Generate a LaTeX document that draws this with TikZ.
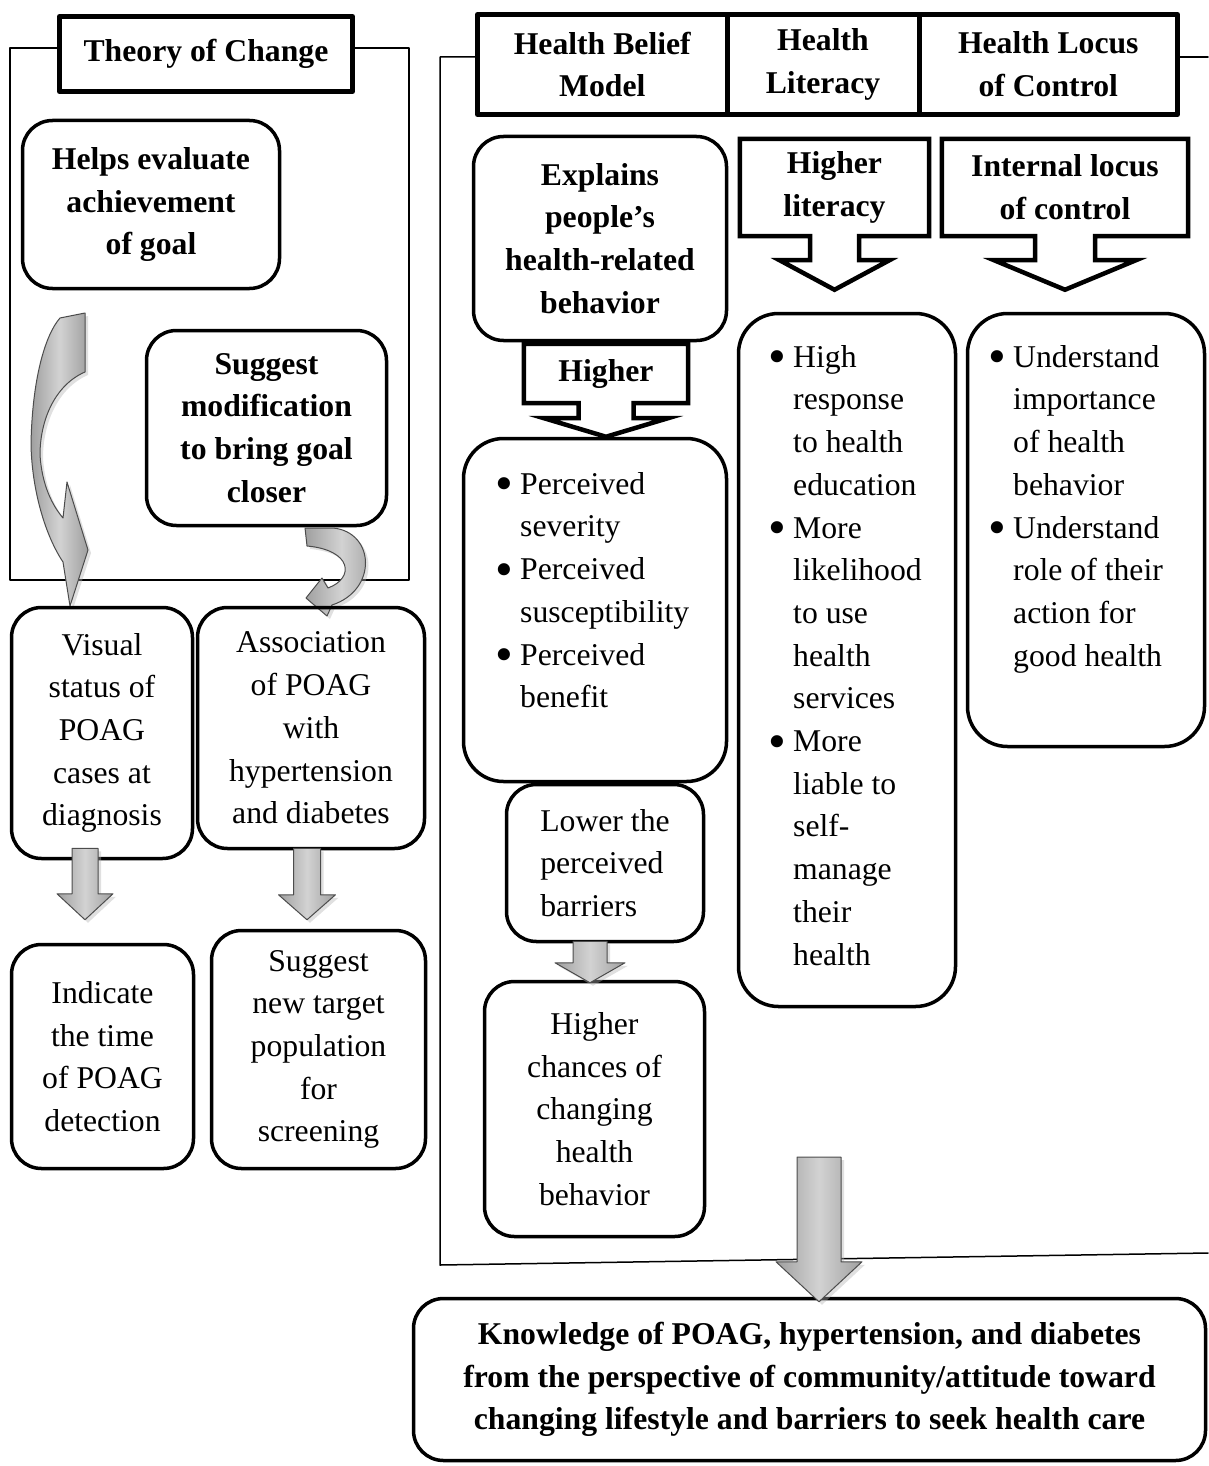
\documentclass[tikz,border=0pt]{standalone}
\usepackage{fontspec}
\usepackage{graphicx}
\setmainfont{Liberation Serif}
\usetikzlibrary{positioning,calc,shadows}

\newcommand{\diafont}{\fontsize{31.7}{42.7}\selectfont}
\newlength{\bulw}\setlength{\bulw}{19pt}
\newcommand{\bul}[1]{\makebox[\bulw][l]{\hspace{-6pt}\raisebox{-6.5pt}{\scalebox{1.6}{\textbullet}}}#1}
\newcommand{\cont}[1]{\hspace*{\bulw}#1}

% callout outline: text node, target point, shaft half width, head half width, shaft length
\newcommand{\downcallout}[5]{%
  \draw[calloutline] let \p1=(#1.north west), \p2=(#1.south east), \p3=(#1.south), \p4=(#2) in
    (\x1,\y1) -- (\x2,\y1) -- (\x2,\y2) -- (\x3+#3pt,\y2) -- (\x3+#3pt,\y2-#5pt)
    -- (\x3+#4pt,\y2-#5pt) -- (\x3,\y4) -- (\x3-#4pt,\y2-#5pt) -- (\x3-#3pt,\y2-#5pt)
    -- (\x3-#3pt,\y2) -- (\x1,\y2) -- cycle;}
% gray block arrow: start, tip, shaft half width, head half width, head length
\newcommand{\blockdown}[5]{%
  \path[blockfill] let \p1=(#1), \p2=(#2) in
    (\x1-#3pt,\y1) -- (\x1+#3pt,\y1) -- (\x1+#3pt,\y2+#5pt) -- (\x1+#4pt,\y2+#5pt)
    -- (\x1,\y2) -- (\x1-#4pt,\y2+#5pt) -- (\x1-#3pt,\y2+#5pt) -- cycle;}

\tikzset{
  frameline/.style={line width=1.5pt},
  titlebox/.style={draw, line width=5pt, font=\diafont\bfseries, align=center, inner sep=0pt, outer sep=0pt},
  roundbox/.style={draw, line width=3.5pt, rounded corners=30pt, align=center, inner sep=0pt},
  boldround/.style={roundbox, font=\diafont\bfseries},
  listbox/.style={draw, line width=3.5pt, rounded corners=40pt, inner sep=0pt},
  listtext/.style={align=left, inner sep=0pt, anchor=north west},
  callouttext/.style={inner sep=0pt, align=center, font=\diafont\bfseries},
  calloutline/.style={line width=4.5pt, line join=miter},
  blockfill/.style={draw=gray!60!black, line width=1pt, left color=gray!75, right color=gray!75, middle color=gray!35,
    drop shadow={shadow xshift=3pt, shadow yshift=-3pt, fill=gray!60, opacity=.4}},
}

\begin{document}
\begin{tikzpicture}[x=1pt, y=-1pt, font=\diafont, line join=round, line cap=round, >=stealth]
  \useasboundingbox (0,0) rectangle (1208,1466);

  % Theory of Change
  \draw[frameline] (57,48) -- (10,48) -- (10,580) -- (409,580) -- (409,48) -- (355,48);
  \node[titlebox, minimum width=293pt, minimum height=75pt] (toc) at (206,54) {Theory of Change};
  \node[boldround, minimum width=257pt, minimum height=168pt] (helps) at (151,204.5) {Helps evaluate\\achievement\\of goal};
  \node[boldround, minimum width=240pt, minimum height=195pt] (suggmod) at (266.5,428) {Suggest\\modification\\to bring goal\\closer};
  \path[blockfill] (60,318) -- (85,313) -- (85,372) .. controls (55,385) and (40,420) .. (40,455)
    .. controls (42,485) and (52,505) .. (63,518) -- (67,482) -- (88,550) -- (70,606) -- (63,562)
    .. controls (45,535) and (32,490) .. (31,445) .. controls (32,380) and (45,335) .. (60,318) -- cycle;
  \path[blockfill] (305,528) -- (333,528) .. controls (375,532) and (378,590) .. (332,605) -- (327,616)
    -- (306,598) -- (322,578) -- (328,588) .. controls (355,578) and (352,550) .. (307,546) -- cycle;

  \node[roundbox, minimum width=181pt, minimum height=251pt] (visual) at (102,733) {Visual\\status of\\POAG\\cases at\\diagnosis};
  \node[roundbox, minimum width=227pt, minimum height=241pt] (assoc) at (311,728) {Association\\of POAG\\with\\hypertension\\and diabetes};
  \node[roundbox, minimum width=182pt, minimum height=224pt] (indicate) at (102.5,1056.5) {Indicate\\the time\\of POAG\\detection};
  \node[roundbox, minimum width=214pt, minimum height=238pt] (newtarget) at (318.5,1049.5) {Suggest\\new target\\population\\for\\screening};
  \blockdown{$(visual.south)+(-17,-12)$}{$(indicate.north)+(0,-23)$}{13}{28}{26}
  \blockdown{$(assoc.south)+(-4,-2)$}{$(newtarget.north)+(0,-9)$}{13.5}{28.5}{25}

  % health models
  \draw[frameline] (475,57) -- (440,57) -- (440,1265) -- (1208,1253);
  \draw[frameline] (1180,57) -- (1208,57);
  \node[titlebox, minimum width=249.5pt, minimum height=100pt] (hbmhead) at (602.25,64.5) {Health Belief\\Model};
  \node[titlebox, minimum width=192pt, minimum height=100pt, right=0pt of hbmhead] (lithead) {Health\\Literacy};
  \node[titlebox, minimum width=258.5pt, minimum height=100pt, right=0pt of lithead] (lochead) {Health Locus\\of Control};

  \node[boldround, minimum width=253pt, minimum height=204pt] (explains) at (600,238.5) {Explains\\people's\\health-related\\behavior};
  \node[listbox, minimum width=263pt, minimum height=343pt] (hbmbox) at (595,610) {};
  \node[listtext] (hbmlist) at (501,472) {\bul{Perceived}\\\cont{severity}\\\bul{Perceived}\\\cont{susceptibility}\\\bul{Perceived}\\\cont{benefit}};
  \node[callouttext, minimum width=164pt, minimum height=59pt] (hbmhigher) at (606,373.5) {Higher};
  \downcallout{hbmhigher}{hbmbox.north}{27.5}{62}{15}

  \node[listbox, minimum width=217pt, minimum height=693pt] (litbox) at (847,660) {};
  \node[listtext] (litlist) at (774,345) {\bul{High}\\\cont{response}\\\cont{to health}\\\cont{education}\\\bul{More}\\\cont{likelihood}\\\cont{to use}\\\cont{health}\\\cont{services}\\\bul{More}\\\cont{liable to}\\\cont{self-}\\\cont{manage}\\\cont{their}\\\cont{health}};
  \node[callouttext, minimum width=189pt, minimum height=97pt] (lithigher) at (834.5,187.5) {Higher\\literacy};
  \downcallout{lithigher}{$(litbox.north)+(0,-22)$}{24.5}{55}{24}

  \node[listbox, minimum width=237pt, minimum height=433pt] (locbox) at (1086,530) {};
  \node[listtext] (loclist) at (994,345) {\bul{Understand}\\\cont{importance}\\\cont{of health}\\\cont{behavior}\\\bul{Understand}\\\cont{role of their}\\\cont{action for}\\\cont{good health}};
  \node[callouttext, minimum width=246pt, minimum height=97pt] (lochigher) at (1065,187.5) {Internal locus\\of control};
  \downcallout{lochigher}{$(locbox.north)+(0,-22)$}{30}{71}{24}

  \node[roundbox, align=left, minimum width=197pt, minimum height=157pt] (lower) at (605,863) {Lower the\\perceived\\barriers};
  \node[roundbox, minimum width=220pt, minimum height=255pt] (chances) at (594.5,1109) {Higher\\chances of\\changing\\health\\behavior};
  \blockdown{$(lower.south)+(-15,-2)$}{$(chances.north)+(0,3)$}{17}{35}{20}

  % result
  \coordinate (panelexit) at (819,1157);
  \node[boldround, minimum width=792pt, minimum height=162pt] (knowledge) at (809.5,1379.5) {Knowledge of POAG, hypertension, and diabetes\\from the perspective of community/attitude toward\\changing lifestyle and barriers to seek health care};
  \blockdown{panelexit}{$(knowledge.north)+(0,5)$}{22}{43}{40}
\end{tikzpicture}
\end{document}
